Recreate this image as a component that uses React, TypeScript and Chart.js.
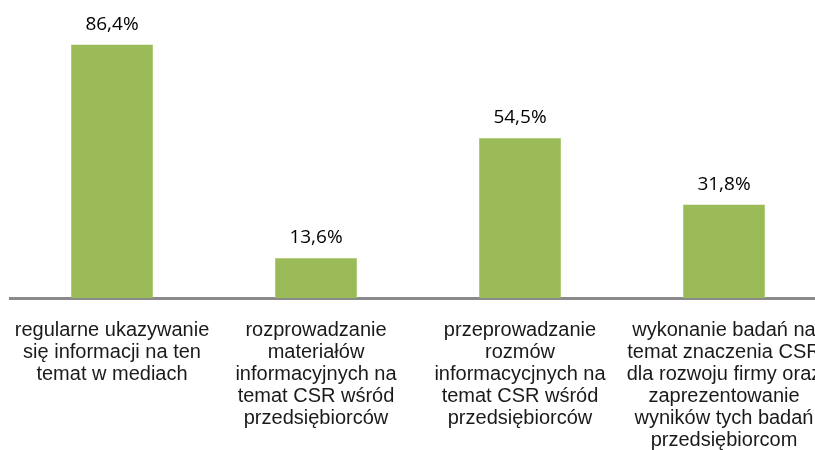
import React, { useEffect, useRef } from "react";
import { Chart, registerables } from "chart.js";

Chart.register(...registerables);

const categories: string[][] = [
  ["regularne ukazywanie", "się informacji na ten", "temat w mediach"],
  ["rozprowadzanie", "materiałów", "informacyjnych na", "temat CSR wśród", "przedsiębiorców"],
  ["przeprowadzanie", "rozmów", "informacycjnych na", "temat CSR wśród", "przedsiębiorców"],
  ["wykonanie badań na", "temat znaczenia CSR", "dla rozwoju firmy oraz", "zaprezentowanie", "wyników tych badań", "przedsiębiorcom"],
];
const values: number[] = [86.4, 13.6, 54.5, 31.8];
const valueLabels: string[] = ["86,4%", "13,6%", "54,5%", "31,8%"];

const valueLabelPlugin = {
  id: "valueLabels",
  afterDatasetsDraw(chart: any) {
    const ctx = chart.ctx;
    const meta = chart.getDatasetMeta(0);
    ctx.save();
    ctx.font = '19px "Open Sans"';
    ctx.fillStyle = "#000000";
    ctx.textAlign = "center";
    ctx.textBaseline = "alphabetic";
    meta.data.forEach((bar: any, i: number) => {
      ctx.fillText(valueLabels[i], bar.x, bar.y - 15);
    });
    ctx.restore();
  },
};

export default function App() {
  const ref = useRef<HTMLCanvasElement | null>(null);
  useEffect(() => {
    if (!ref.current) return;
    const chart = new Chart(ref.current, {
      type: "bar",
      data: {
        labels: categories,
        datasets: [
          {
            data: values,
            backgroundColor: "#9BBB59",
            borderWidth: 0,
            categoryPercentage: 1,
            barPercentage: 0.4,
          },
        ],
      },
      options: {
        animation: false,
        responsive: false,
        maintainAspectRatio: false,
        layout: { padding: { left: 10, right: 4, top: 5, bottom: 0 } },
        plugins: { legend: { display: false }, tooltip: { enabled: false } },
        scales: {
          x: {
            grid: { display: false, drawTicks: false },
            border: { display: true, color: "#8A8A8A", width: 3 },
            afterFit: (scale: any) => {
              scale.height = 152;
              scale.paddingLeft = 0;
              scale.paddingRight = 0;
            },
            ticks: {
              maxRotation: 0,
              minRotation: 0,
              autoSkip: false,
              padding: 21,
              color: "#1a1a1a",
              font: { family: '"Liberation Sans", Arial', size: 20, lineHeight: "22px" },
            },
          },
          y: {
            display: false,
            min: 0,
            max: 100,
          },
        },
      },
      plugins: [valueLabelPlugin],
    });
    return () => chart.destroy();
  }, []);
  return (
    <div style={{ position: "fixed", left: 0, top: 0, width: 815, height: 450, overflow: "hidden", background: "#fff" }}>
      <canvas ref={ref} width={830} height={450} style={{ display: "block", width: 830, height: 450 }} />
    </div>
  );
}
